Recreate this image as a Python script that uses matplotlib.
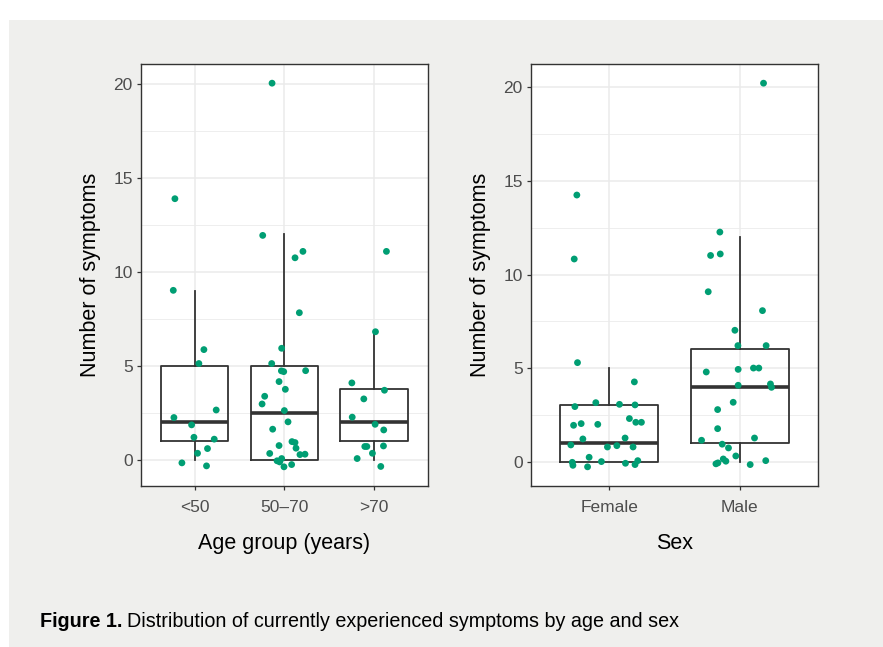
import matplotlib
matplotlib.use("Agg")
import matplotlib.pyplot as plt
import numpy as np
from matplotlib.patches import Rectangle

plt.rcParams['font.family'] = ['Liberation Sans', 'DejaVu Sans']

GREEN = "#009E73"
DARK = "#333333"
GRID = "#ebebeb"

# ---- age panel ----
age_groups = ["<50", "50\u201370", ">70"]
age_q1 = [1, 0, 1]
age_med = [2, 2.5, 2]
age_q3 = [5, 5, 3.75]
age_lo = [0, 0, 0]
age_hi = [9, 12, 6.8]

# jittered points: offset from category centre, value
lt50_dx = [-0.219, -0.237, 0.104, 0.048, -0.230, 0.241, -0.033, -0.007, 0.219,
           0.144, 0.033, -0.141, 0.133]
lt50_y = [13.88, 9.01, 5.86, 5.12, 2.25, 2.65, 1.86, 1.20, 1.10, 0.60, 0.35,
          -0.16, -0.32]
mid_dx = [-0.137, -0.241, 0.207, 0.119, 0.167, -0.030, -0.141, -0.033, -0.007,
          0.237, -0.059, 0.011, -0.219, -0.248, 0.0, 0.041, -0.130, 0.085,
          0.119, 0.130, -0.059, -0.163, 0.174, 0.230, -0.030, -0.081, -0.052,
          -0.004, 0.081]
mid_y = [20.02, 11.93, 11.08, 10.74, 7.82, 5.93, 5.12, 4.73, 4.69, 4.74, 4.16,
         3.75, 3.38, 2.97, 2.62, 2.02, 1.63, 0.97, 0.92, 0.62, 0.76, 0.34, 0.28,
         0.30, 0.07, -0.05, -0.11, -0.37, -0.25]
gt70_dx = [0.137, 0.015, -0.248, 0.115, -0.115, -0.244, 0.011, 0.107, -0.104,
           -0.081, 0.104, -0.019, -0.189, 0.074]
gt70_y = [11.08, 6.81, 4.09, 3.70, 3.24, 2.27, 1.89, 1.59, 0.71, 0.71, 0.74,
          0.35, 0.07, -0.35]

# ---- sex panel ----
sexes = ["Female", "Male"]
sex_q1 = [0, 1]
sex_med = [1, 4]
sex_q3 = [3, 6]
sex_lo = [0, 0]
sex_hi = [5, 12]

fem_dx = [-0.247, -0.267, -0.242, 0.193, -0.262, -0.102, 0.079, 0.198, 0.155,
          0.204, 0.247, -0.272, -0.214, -0.087, -0.201, 0.122, -0.293, -0.013,
          0.059, 0.183, -0.153, -0.059, -0.282, -0.277, -0.165, 0.125, 0.198,
          0.219]
fem_y = [14.25, 10.83, 5.29, 4.26, 2.94, 3.15, 3.06, 3.03, 2.30, 2.10, 2.10,
         1.94, 2.03, 1.99, 1.21, 1.26, 0.89, 0.78, 0.85, 0.78, 0.23, 0.0,
         -0.04, -0.20, -0.28, -0.09, -0.16, 0.05]
male_dx = [0.181, -0.153, -0.224, -0.150, -0.242, 0.173, -0.038, -0.015, 0.201,
           -0.257, -0.013, 0.104, 0.145, -0.013, 0.234, 0.242, -0.051, -0.170,
           -0.170, -0.293, 0.112, -0.135, -0.087, -0.031, 0.198, -0.127, -0.107,
           -0.183, -0.168, 0.079]
male_y = [20.23, 12.27, 11.02, 11.10, 9.08, 8.07, 7.02, 6.20, 6.20, 4.79, 4.93,
          5.00, 5.00, 4.08, 4.15, 3.97, 3.17, 2.78, 1.76, 1.14, 1.26, 0.93, 0.73,
          0.30, 0.05, 0.14, 0.02, -0.12, -0.07, -0.16]


def draw_panel(ax, labels, q1, med, q3, lo, hi, groups, xlabel):
    stats = [dict(q1=a, med=m, q3=b, whislo=l, whishi=h, fliers=[])
             for a, m, b, l, h in zip(q1, med, q3, lo, hi)]
    pos = np.arange(1, len(labels) + 1)
    ax.bxp(stats, positions=pos, widths=0.75, showfliers=False, showcaps=False,
           boxprops=dict(color=DARK, linewidth=1.3),
           whiskerprops=dict(color=DARK, linewidth=1.3),
           medianprops=dict(color=DARK, linewidth=2.6, solid_capstyle='butt'),
           zorder=2)
    for p, (dx, ys) in zip(pos, groups):
        ax.scatter(p + np.array(dx), ys, s=24, color=GREEN, edgecolors='none',
                   zorder=3)

    ax.set_xlim(0.4, len(labels) + 0.6)
    ax.margins(y=0.05)
    ax.set_xticks(pos)
    ax.set_xticklabels(labels)
    ax.set_yticks([0, 5, 10, 15, 20])
    ax.set_yticks([2.5, 7.5, 12.5, 17.5], minor=True)
    ax.grid(True, which='major', color=GRID, linewidth=1.1, zorder=0)
    ax.grid(True, which='minor', axis='y', color=GRID, linewidth=0.6, zorder=0)
    ax.set_axisbelow(True)
    ax.tick_params(which='major', length=2.8, width=0.9, color=DARK,
                   labelsize=12.5, labelcolor="#4d4d4d", pad=3)
    ax.tick_params(axis='x', which='major', pad=7)
    ax.tick_params(which='minor', length=0)
    for s in ax.spines.values():
        s.set_color(DARK)
        s.set_linewidth(1.0)
    ax.set_facecolor('white')
    ax.set_xlabel(xlabel, fontsize=15.5, labelpad=13)
    ax.set_ylabel("Number of symptoms", fontsize=15.5, labelpad=9)


fig = plt.figure(figsize=(8.83, 6.47), dpi=100)
fig.patch.set_facecolor('white')
fig.patches.append(Rectangle((9 / 883, 0), 1, 1 - 20 / 647,
                             transform=fig.transFigure, facecolor='#efefed',
                             edgecolor='none', zorder=-10))

ax1 = fig.add_axes([140.7 / 883, 1 - 486 / 647, 287.3 / 883, 422 / 647])
ax2 = fig.add_axes([530.7 / 883, 1 - 486 / 647, 287.6 / 883, 422 / 647])

draw_panel(ax1, age_groups, age_q1, age_med, age_q3, age_lo, age_hi,
           [(lt50_dx, lt50_y), (mid_dx, mid_y), (gt70_dx, gt70_y)],
           "Age group (years)")
draw_panel(ax2, sexes, sex_q1, sex_med, sex_q3, sex_lo, sex_hi,
           [(fem_dx, fem_y), (male_dx, male_y)], "Sex")

cap_font = ['Liberation Sans Narrow', 'Liberation Sans', 'DejaVu Sans']
t1 = fig.text(40 / 883, 1 - 631 / 647, "Figure 1.", fontsize=14.2,
              fontweight='bold', family=cap_font, va='bottom', ha='left')
ax1.annotate("Distribution of currently experienced symptoms by age and sex",
             xy=(1, 0), xycoords=t1, xytext=(3.5, 0),
             textcoords='offset points', va='bottom', ha='left', fontsize=14.2,
             family=cap_font, annotation_clip=False)

fig.savefig("out.png", dpi=100)
